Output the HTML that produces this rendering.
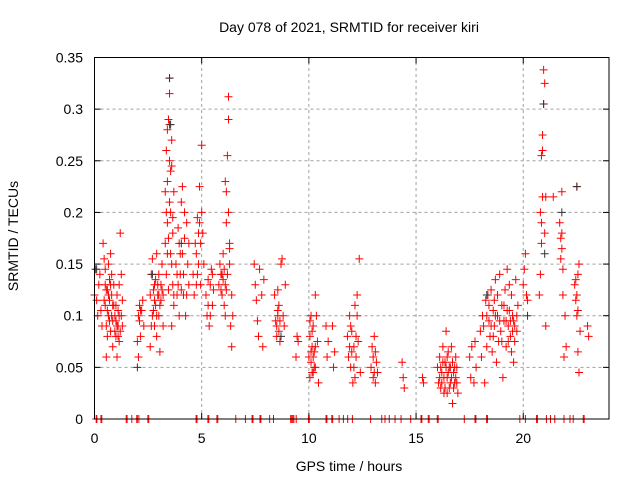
<!DOCTYPE html>
<html><head><meta charset="utf-8"><style>
body{margin:0;background:#fff}
svg{display:block;font-family:"Liberation Sans",sans-serif}
</style></head><body>
<svg id="chart" width="640" height="480" xmlns="http://www.w3.org/2000/svg">
<rect width="640" height="480" fill="#fff"/>
<text x="349" y="32" font-size="14" text-anchor="middle">Day 078 of 2021, SRMTID for receiver kiri</text>
<text x="349" y="471" font-size="14" text-anchor="middle">GPS time / hours</text>
<text x="0" y="0" font-size="14" text-anchor="middle" transform="translate(18,236) rotate(-90)">SRMTID / TECUs</text>
<g id="grid"></g><g id="ticks"></g><g id="marks"></g>
<rect x="94.5" y="57.5" width="514.5" height="361.5" fill="none" stroke="#000" stroke-width="1"/>
</svg>
<script>
const xTicks = [0,5,10,15,20];
const yTicks = [0,0.05,0.1,0.15,0.2,0.25,0.3,0.35];
const yTickLabels = ["0","0.05","0.1","0.15","0.2","0.25","0.3","0.35"];
const zeroHours = [0.08,0.11,0.3,0.34,1.48,1.52,1.74,1.97,2.0,2.07,2.49,2.53,4.74,4.78,5.29,5.33,5.71,5.75,6.59,7.04,7.35,7.39,7.72,7.76,8.17,8.35,9.15,9.2,9.25,9.3,9.41,9.98,10.02,10.8,10.84,11.07,11.11,11.41,11.61,11.81,12.03,12.88,13.4,13.55,13.75,14.02,14.3,14.75,15.23,15.27,15.57,15.61,15.99,16.03,17.25,17.75,17.79,18.29,18.33,19.84,20.1,20.62,20.66,21.08,21.27,21.47,21.9,22.18,22.33,22.8,22.84];
const redPoints = [
[0.0,0.12],[0.05,0.145],[0.1,0.115],[0.15,0.1],[0.2,0.13],[0.25,0.14],[0.3,0.105],
[0.4,0.17],[0.45,0.155],[0.5,0.13],[0.5,0.11],[0.55,0.09],[0.55,0.06],[0.6,0.125],[0.6,0.08],[0.65,0.15],[0.65,0.1],[0.7,0.135],[0.7,0.115],[0.75,0.16],[0.75,0.085],[0.8,0.14],[0.8,0.12],[0.85,0.07],[0.85,0.095],[0.9,0.11],[0.9,0.13],
[0.95,0.1],[1.0,0.08],[1.0,0.095],[1.05,0.12],[1.05,0.06],[1.1,0.09],[1.1,0.105],[1.15,0.075],[1.15,0.13],[1.2,0.18],[1.2,0.085],[1.25,0.1],[1.25,0.14],[1.3,0.115],[1.3,0.09],
[2.0,0.075],[2.05,0.06],[2.05,0.1],[2.1,0.11],[2.15,0.08],[2.2,0.105],[2.25,0.115],[2.3,0.09],
[2.6,0.12],[2.6,0.07],[2.65,0.14],[2.7,0.1],[2.7,0.155],[2.75,0.125],[2.8,0.09],[2.8,0.13],[2.85,0.11],[2.9,0.16],[2.9,0.08],[2.95,0.12],[3.0,0.14],[3.0,0.1],[3.05,0.065],[3.1,0.13],[3.1,0.115],[3.15,0.15],[3.2,0.12],[3.2,0.09],
[3.3,0.17],[3.3,0.22],[3.35,0.26],[3.35,0.14],[3.4,0.28],[3.4,0.19],[3.45,0.29],[3.45,0.125],[3.5,0.315],[3.5,0.33],[3.5,0.25],[3.55,0.2],[3.55,0.16],[3.6,0.245],[3.6,0.27],[3.6,0.09],[3.65,0.18],[3.65,0.13],[3.7,0.11],[3.7,0.22],
[3.8,0.15],[3.85,0.12],[3.9,0.185],[3.95,0.17],[4.0,0.14],[4.05,0.21],[4.1,0.225],[4.1,0.16],[4.15,0.12],[4.2,0.175],[4.25,0.1],[4.3,0.19],[4.35,0.15],[4.4,0.13],
[4.6,0.14],[4.65,0.12],[4.7,0.17],[4.75,0.16],[4.8,0.195],[4.85,0.15],[4.9,0.225],[4.9,0.19],[4.95,0.13],[5.0,0.265],[5.0,0.2],[5.05,0.18],[5.1,0.15],
[5.2,0.12],[5.25,0.1],[5.3,0.135],[5.35,0.09],[5.4,0.13],[5.45,0.145],[5.5,0.11],[5.55,0.125],
[5.8,0.13],[5.85,0.15],[5.9,0.14],[5.95,0.12],[6.0,0.16],[6.05,0.11],[6.1,0.13],[6.1,0.23],[6.15,0.22],[6.15,0.19],[6.2,0.255],[6.25,0.312],[6.25,0.29],[6.3,0.17],[6.3,0.15],[6.35,0.09],[6.4,0.07],[6.4,0.12],[6.45,0.1],
[7.45,0.15],[7.5,0.13],[7.55,0.115],[7.6,0.095],[7.65,0.08],[7.7,0.145],[7.8,0.12],[7.85,0.07],[7.9,0.135],
[8.4,0.12],[8.45,0.095],[8.5,0.08],[8.55,0.105],[8.6,0.085],[8.65,0.075],[8.7,0.15],[8.75,0.155],[8.8,0.1],[8.85,0.09],[8.9,0.13],
[9.4,0.06],[9.45,0.08],[9.5,0.075],
[10.0,0.06],[10.05,0.04],[10.05,0.08],[10.1,0.1],[10.1,0.055],[10.15,0.07],[10.2,0.09],[10.2,0.045],[10.25,0.065],[10.3,0.12],[10.3,0.05],[10.35,0.1],[10.4,0.075],[10.45,0.035],
[10.8,0.09],[10.85,0.06],[10.9,0.075],[11.1,0.09],[11.15,0.05],[11.2,0.065],
[11.8,0.08],[11.85,0.06],[11.9,0.1],[11.95,0.05],[12.0,0.085],[12.05,0.035],[12.1,0.07],[12.15,0.11],[12.2,0.06],[12.25,0.12],[12.3,0.075],[12.35,0.155],[12.4,0.045],
[12.9,0.05],[12.95,0.07],[13.0,0.04],[13.05,0.08],[13.1,0.035],[13.15,0.055],[13.2,0.045],
[14.35,0.055],[14.4,0.04],[14.45,0.03],[15.3,0.04],[15.35,0.035],
[16.0,0.05],[16.05,0.035],[16.1,0.06],[16.15,0.03],[16.2,0.045],[16.25,0.07],[16.3,0.025],[16.35,0.055],[16.4,0.085],[16.45,0.04],[16.5,0.065],[16.55,0.03],[16.6,0.05],[16.65,0.07],[16.7,0.015],[16.75,0.045],[16.8,0.035],[16.85,0.06],[16.9,0.05],[16.95,0.025],
[17.5,0.06],[17.55,0.04],[17.6,0.07],[17.7,0.035],[17.75,0.075],[17.8,0.05],
[18.0,0.085],[18.05,0.06],[18.1,0.1],[18.15,0.09],[18.2,0.035],[18.25,0.115],[18.3,0.07],[18.35,0.12],[18.4,0.095],[18.45,0.08],[18.5,0.125],[18.55,0.065],[18.6,0.105],[18.65,0.09],[18.7,0.135],[18.75,0.055],[18.8,0.1],[18.85,0.075],[18.9,0.14],[18.95,0.085],[19.0,0.11],[19.05,0.04],[19.1,0.095],[19.15,0.125],[19.2,0.07],[19.25,0.145],[19.3,0.09],[19.35,0.105],[19.4,0.08],[19.45,0.12],[19.5,0.1],[19.55,0.055],[19.6,0.09],[19.65,0.135],[19.7,0.085],[19.75,0.11],
[20.0,0.13],[20.05,0.145],[20.1,0.16],[20.15,0.12],[20.2,0.115],
[20.75,0.12],[20.8,0.14],[20.8,0.2],[20.85,0.19],[20.85,0.255],[20.9,0.275],[20.9,0.26],[20.95,0.305],[20.95,0.338],[21.0,0.325],[21.0,0.18],[21.05,0.215],[21.05,0.09],
[21.4,0.215],
[21.7,0.19],[21.75,0.175],[21.8,0.165],[21.8,0.22],[21.85,0.145],[21.85,0.12],[21.9,0.06],[21.95,0.1],[22.0,0.07],
[22.4,0.13],[22.45,0.115],[22.5,0.1],[22.5,0.225],[22.55,0.14],[22.55,0.065],[22.6,0.045],[22.6,0.15],[22.65,0.085],[23.0,0.09],[23.05,0.08]
];
const extraPoints = [
[0.55,0.125],[0.6,0.105],[0.65,0.12],[0.7,0.095],[0.75,0.13],[0.8,0.1],[0.85,0.11],[1.0,0.11],[1.05,0.09],[1.1,0.08],[1.15,0.1],[0.95,0.085],[0.45,0.115],[0.35,0.09],[0.5,0.145],
[2.1,0.095],[2.15,0.105],[2.75,0.105],[2.8,0.115],[2.85,0.135],[2.9,0.1],[2.95,0.13],[3.0,0.12],[3.05,0.11],[3.15,0.125],[2.65,0.09],
[3.35,0.2],[3.4,0.23],[3.45,0.175],[3.5,0.21],[3.55,0.24],[3.5,0.285],[3.6,0.15],[3.65,0.195],[3.7,0.12],[3.4,0.16],
[3.85,0.14],[3.9,0.13],[4.0,0.16],[4.05,0.125],[4.15,0.14],[4.2,0.2],[4.3,0.12],[4.4,0.17],[3.95,0.1],
[4.75,0.13],[4.8,0.14],[4.85,0.18],[4.95,0.17],[5.3,0.11],[5.4,0.1],[5.5,0.14],
[5.9,0.125],[5.95,0.14],[6.0,0.135],[6.05,0.145],[6.15,0.125],[6.2,0.14],[6.1,0.1],[6.3,0.165],[6.25,0.2],
[8.5,0.09],[8.55,0.1],[8.6,0.11],[8.65,0.095],[8.55,0.125],
[10.1,0.065],[10.15,0.085],[10.2,0.06],[10.25,0.05],[10.15,0.045],[10.3,0.07],[10.05,0.095],
[11.9,0.07],[11.95,0.09],[12.0,0.065],[12.1,0.05],[12.2,0.08],[12.25,0.1],[12.15,0.04],
[13.0,0.06],[13.05,0.045],[13.1,0.065],
[16.1,0.04],[16.2,0.035],[16.25,0.055],[16.3,0.04],[16.35,0.03],[16.4,0.05],[16.45,0.06],[16.5,0.045],[16.55,0.05],[16.6,0.035],[16.65,0.04],[16.7,0.055],[16.75,0.03],[16.8,0.05],[16.85,0.04],[16.9,0.035],[16.15,0.05],[16.45,0.025],
[18.3,0.1],[18.4,0.11],[18.5,0.09],[18.6,0.08],[18.7,0.1],[18.8,0.12],[18.9,0.095],[19.0,0.075],[19.1,0.11],[19.2,0.095],[19.3,0.075],[19.4,0.095],[19.5,0.085],[19.6,0.075],[19.7,0.1],[19.55,0.095],[19.45,0.065],[19.35,0.13],[19.25,0.105],[18.65,0.115],
[20.85,0.17],[20.9,0.215],[21.8,0.18],[21.75,0.155],[22.5,0.12],[22.55,0.105],[22.45,0.135]
];
const blackPoints = [[0.1,0.145],[3.5,0.33],[3.55,0.285],[2.7,0.14],[8.7,0.08],[20.95,0.305],[21.8,0.2],[22.5,0.225],[20.2,0.1],[18.3,0.12],[4.05,0.17],[2.0,0.05],[21.0,0.16]];

const X0=94.5,X1=609,Y0=419,Y1=57.5,XMAX=24,YMAX=0.35;
const sx=h=>X0+(h/XMAX)*(X1-X0);
const sy=v=>Y0-(v/YMAX)*(Y0-Y1);
const NS="http://www.w3.org/2000/svg";
function mk(tag,attrs,parent){const e=document.createElementNS(NS,tag);for(const k in attrs)e.setAttribute(k,attrs[k]);parent.appendChild(e);return e;}
const grid=document.getElementById('grid'),ticks=document.getElementById('ticks'),marks=document.getElementById('marks');
xTicks.forEach(t=>{
  const x=sx(t);
  if(t>0){const g=mk('line',{x1:x,x2:x,y1:Y0,y2:Y1,stroke:'#a0a0a0','stroke-dasharray':'3,3'},grid);
  
  }
  const l=mk('text',{x:x,y:443,'font-size':14,'text-anchor':'middle'},ticks);l.textContent=t;
  
  
  mk('line',{x1:x,x2:x,y1:Y0,y2:Y0-6,stroke:'#000'},ticks);
  mk('line',{x1:x,x2:x,y1:Y1,y2:Y1+6,stroke:'#000'},ticks);
});
yTicks.forEach((t,i)=>{
  const y=sy(t);
  if(i>0&&i<yTicks.length-1){const g=mk('line',{x1:X0,x2:X1,y1:y,y2:y,stroke:'#a0a0a0','stroke-dasharray':'3,3'},grid);
  
  }
  const l=mk('text',{x:83,y:y+5,'font-size':14,'text-anchor':'end'},ticks);l.textContent=yTickLabels[i];
  
  
  mk('line',{x1:X0,x2:X0+6,y1:y,y2:y,stroke:'#000'},ticks);
  mk('line',{x1:X1,x2:X1-6,y1:y,y2:y,stroke:'#000'},ticks);
});
function plus(h,v,color){
  const x=sx(h),y=sy(v);
  return mk('path',{d:`M${x-4},${y}h8M${x},${y-4}v8`,stroke:color,'stroke-width':1,fill:'none'},marks);
}
redPoints.concat(extraPoints).forEach(([h,v])=>{const p=plus(h,v,'#ff0000');
  
  });
zeroHours.forEach(h=>{const p=plus(h,0,'#ff0000');
  
  });
blackPoints.forEach(([h,v])=>{const p=plus(h,v,'#333333');
  
  });
</script>
</body></html>
